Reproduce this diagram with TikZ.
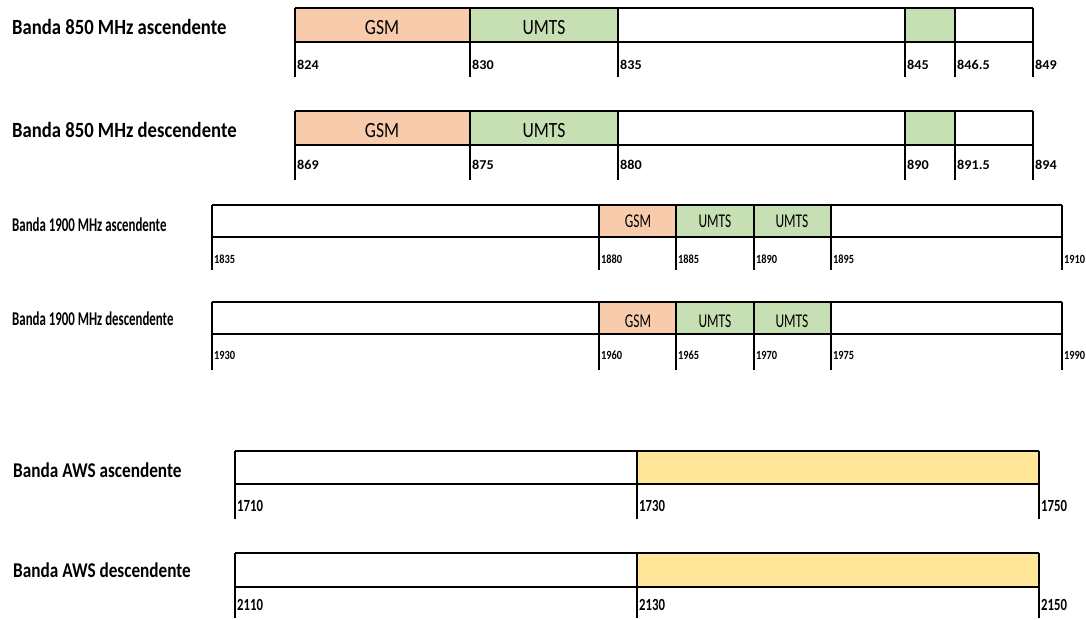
\documentclass[tikz,border=0pt]{standalone}
\usepackage{fontspec}
\setmainfont{Carlito}
\usepackage{graphicx}
\definecolor{gsmc}{HTML}{F8CBAD}
\definecolor{umtsc}{HTML}{C6E0B4}
\definecolor{awsc}{HTML}{FFE699}
\newcommand{\sxt}[2]{\scalebox{#1}[1]{#2}}
\tikzset{
  hline/.style={line width=1.4pt},
  vline/.style={line width=1.1pt},
  txt/.style={anchor=base west, inner sep=0pt, text=black},
  ctxt/.style={anchor=base, inner sep=0pt, text=black},
  biglab/.style={txt, font=\fontsize{21.7}{22}\selectfont\bfseries},
  midlab/.style={txt, font=\fontsize{19.5}{20}\selectfont\bfseries},
  awslab/.style={txt, font=\fontsize{21}{22}\selectfont\bfseries},
  bigcell/.style={ctxt, font=\fontsize{21.7}{22}\selectfont},
  midcell/.style={ctxt, font=\fontsize{19.5}{20}\selectfont},
  numA/.style={txt, font=\fontsize{13.5}{14}\selectfont\bfseries},
  numB/.style={txt, font=\fontsize{12.5}{13}\selectfont\bfseries},
  numC/.style={txt, font=\fontsize{17}{18}\selectfont\bfseries},
}
\begin{document}
\begin{tikzpicture}[x=1pt,y=-1pt]
\useasboundingbox (0,0) rectangle (1086,619);

% ---------- Row 1: 850 MHz ascendente ----------
\node[biglab] (l1) at (12,34) {\sxt{0.86}{Banda 850 MHz ascendente}};
\fill[gsmc] (295,8) rectangle (470,42);
\fill[umtsc] (470,8) rectangle (618,42);
\fill[umtsc] (905,8) rectangle (955,42);
\draw[hline] (295,8) -- (1033,8) (295,42) -- (1033,42);
\foreach \x in {295,470,618,905,955,1033} \draw[vline] (\x,8) -- (\x,77);
\node[bigcell] (g1) at (382,34) {\sxt{0.81}{GSM}};
\node[bigcell] (u1) at (544,34) {\sxt{0.81}{UMTS}};
\node[numA] (a824) at (297,69) {\sxt{1.05}{824}};
\node[numA] (a830) at (472,69) {\sxt{1.05}{830}};
\node[numA] (a835) at (620,69) {\sxt{1.05}{835}};
\node[numA] (a845) at (907,69) {\sxt{1.05}{845}};
\node[numA] (a8465) at (957,69) {\sxt{1.05}{846.5}};
\node[numA] (a849) at (1035,69) {\sxt{1.05}{849}};

% ---------- Row 2: 850 MHz descendente ----------
\node[biglab] (l2) at (12,137) {\sxt{0.86}{Banda 850 MHz descendente}};
\fill[gsmc] (295,111) rectangle (470,145);
\fill[umtsc] (470,111) rectangle (618,145);
\fill[umtsc] (905,111) rectangle (955,145);
\draw[hline] (295,111) -- (1033,111) (295,145) -- (1033,145);
\foreach \x in {295,470,618,905,955,1033} \draw[vline] (\x,111) -- (\x,180);
\node[bigcell] (g2) at (382,137) {\sxt{0.81}{GSM}};
\node[bigcell] (u2) at (544,137) {\sxt{0.81}{UMTS}};
\node[numA] (b869) at (297,169) {\sxt{1.05}{869}};
\node[numA] (b875) at (472,169) {\sxt{1.05}{875}};
\node[numA] (b880) at (620,169) {\sxt{1.05}{880}};
\node[numA] (b890) at (907,169) {\sxt{1.05}{890}};
\node[numA] (b8915) at (957,169) {\sxt{1.05}{891.5}};
\node[numA] (b894) at (1035,169) {\sxt{1.05}{894}};

% ---------- Row 3: 1900 MHz ascendente ----------
\node[midlab] (l3) at (12,231) {\sxt{0.66}{Banda 1900 MHz ascendente}};
\fill[gsmc] (599,205) rectangle (676,237);
\fill[umtsc] (676,205) rectangle (831,237);
\draw[hline] (212,205) -- (1062,205) (212,237) -- (1062,237);
\foreach \x in {212,599,676,754,831,1062} \draw[vline] (\x,205) -- (\x,270);
\node[midcell] (g3) at (638,227) {\sxt{0.69}{GSM}};
\node[midcell] (u3a) at (715,227) {\sxt{0.69}{UMTS}};
\node[midcell] (u3b) at (792,227) {\sxt{0.69}{UMTS}};
\node[numB] (c1835) at (214,263) {\sxt{0.83}{1835}};
\node[numB] (c1880) at (601,263) {\sxt{0.83}{1880}};
\node[numB] (c1885) at (678,263) {\sxt{0.83}{1885}};
\node[numB] (c1890) at (756,263) {\sxt{0.83}{1890}};
\node[numB] (c1895) at (833,263) {\sxt{0.83}{1895}};
\node[numB] (c1910) at (1064,263) {\sxt{0.83}{1910}};

% ---------- Row 4: 1900 MHz descendente ----------
\node[midlab] (l4) at (12,325) {\sxt{0.66}{Banda 1900 MHz descendente}};
\fill[gsmc] (599,302) rectangle (676,334);
\fill[umtsc] (676,302) rectangle (831,334);
\draw[hline] (212,302) -- (1062,302) (212,334) -- (1062,334);
\foreach \x in {212,599,676,754,831,1062} \draw[vline] (\x,302) -- (\x,370);
\node[midcell] (g4) at (638,327) {\sxt{0.69}{GSM}};
\node[midcell] (u4a) at (715,327) {\sxt{0.69}{UMTS}};
\node[midcell] (u4b) at (792,327) {\sxt{0.69}{UMTS}};
\node[numB] (d1930) at (214,359) {\sxt{0.83}{1930}};
\node[numB] (d1960) at (601,359) {\sxt{0.83}{1960}};
\node[numB] (d1965) at (678,359) {\sxt{0.83}{1965}};
\node[numB] (d1970) at (756,359) {\sxt{0.83}{1970}};
\node[numB] (d1975) at (833,359) {\sxt{0.83}{1975}};
\node[numB] (d1990) at (1064,359) {\sxt{0.83}{1990}};

% ---------- Row 5: AWS ascendente ----------
\node[awslab] (l5) at (13,477) {\sxt{0.82}{Banda AWS ascendente}};
\fill[awsc] (637,451) rectangle (1039,484);
\draw[hline] (235,451) -- (1039,451) (235,484) -- (1039,484);
\foreach \x in {235,637,1039} \draw[vline] (\x,451) -- (\x,519);
\node[numC] (e1710) at (237,511) {\sxt{0.75}{1710}};
\node[numC] (e1730) at (639,511) {\sxt{0.75}{1730}};
\node[numC] (e1750) at (1041,511) {\sxt{0.75}{1750}};

% ---------- Row 6: AWS descendente ----------
\node[awslab] (l6) at (13,577) {\sxt{0.82}{Banda AWS descendente}};
\fill[awsc] (637,553) rectangle (1039,587);
\draw[hline] (235,553) -- (1039,553) (235,587) -- (1039,587);
\foreach \x in {235,637,1039} \draw[vline] (\x,553) -- (\x,618);
\node[numC] (f2110) at (237,610) {\sxt{0.75}{2110}};
\node[numC] (f2130) at (639,610) {\sxt{0.75}{2130}};
\node[numC] (f2150) at (1041,610) {\sxt{0.75}{2150}};
\end{tikzpicture}
\end{document}
